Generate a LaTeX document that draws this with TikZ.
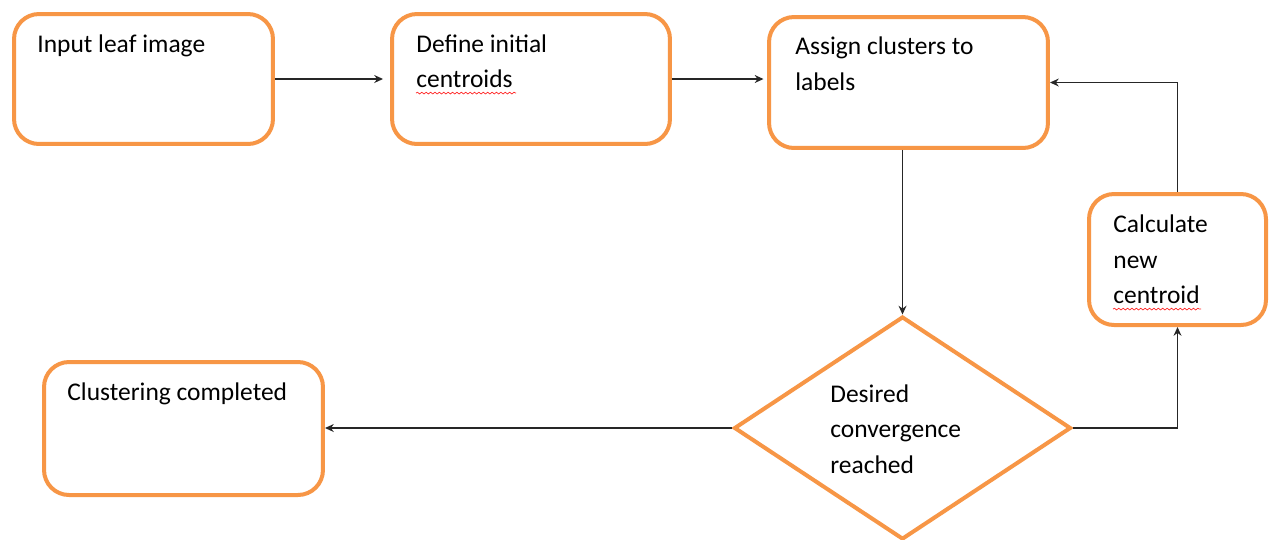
\documentclass[tikz,border=0pt]{standalone}
\usepackage{fontspec}
\setmainfont{Carlito}
\usepackage{tikz}
\usetikzlibrary{shapes.geometric,arrows.meta,decorations.pathmorphing}

\definecolor{boxorange}{HTML}{F79646}

\tikzset{
  stepbox/.style={draw=boxorange,line width=0.08cm,rounded corners=0.5cm,fill=white},
  boxtext/.style={anchor=north west,inner sep=0pt,align=left,font=\fontsize{14.5}{20.2}\selectfont},
  flow/.style={draw=black!85,line width=0.8pt,-{Stealth[length=5pt,width=4.5pt]}},
  squiggle/.style={draw=red!85,line width=0.4pt,decorate,decoration={snake,amplitude=0.5pt,segment length=2.5pt}}
}

\begin{document}
\begin{tikzpicture}[x=0.02cm,y=-0.02cm]
\useasboundingbox (0,0) rectangle (1270,539);

% Top row
\node[stepbox,minimum width=5.18cm,minimum height=2.6cm] (input) at (143.5,79) {};
\node[boxtext] (inputtxt) at ([shift={(25,22)}]input.north west) {Input leaf image};

\node[stepbox,minimum width=5.56cm,minimum height=2.6cm] (define) at (531,79) {};
\node[boxtext] (definetxt) at ([shift={(26,22)}]define.north west) {Define initial\\centroids};

\node[stepbox,minimum width=5.58cm,minimum height=2.62cm] (assign) at (908.5,82.5) {};
\node[boxtext] (assigntxt) at ([shift={(28,21.5)}]assign.north west) {Assign clusters to\\labels};

% Loop back
\node[stepbox,minimum width=3.54cm,minimum height=2.62cm] (calc) at (1177.5,259.5) {};
\node[boxtext] (calctxt) at ([shift={(26,22.5)}]calc.north west) {Calculate\\new\\centroid};

% Decision and end
\node[diamond,draw=boxorange,line width=0.08cm,fill=white,inner sep=0pt,
      minimum width=6.74cm,minimum height=4.46cm] (conv) at (902.5,428) {};
\node[boxtext] (convtxt) at ([shift={(-72.5,-44)}]conv.center) {Desired\\convergence\\reached};

\node[stepbox,minimum width=5.58cm,minimum height=2.66cm] (clust) at (183.5,428.5) {};
\node[boxtext] (clusttxt) at ([shift={(25,22.5)}]clust.north west) {Clustering completed};

% spell check marks
\draw[squiggle] ([yshift=-0.1cm]definetxt.south west) -- ++(100,0);
\draw[squiggle] ([yshift=-0.1cm]calctxt.south west) -- ++(88,0);

% Arrows
\draw[flow,shorten >=0.14cm] (input) -- (define);
\draw[flow,shorten >=2pt] (define.east) -- (define.east -| assign.west);
\draw[flow] (conv.north |- assign.south) -- (conv.north);
\draw[flow] (conv.east) -| (calc.south);
\draw[flow] (calc.north) |- (assign.east);
\draw[flow] (conv.west) -- (conv.west -| clust.east);
\end{tikzpicture}
\end{document}
